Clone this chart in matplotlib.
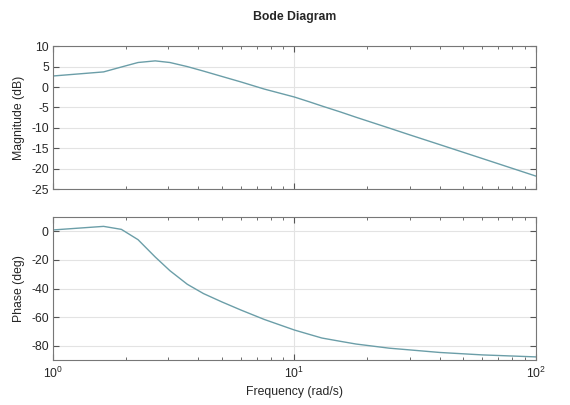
import numpy as np
import matplotlib
matplotlib.use('Agg')
import matplotlib.pyplot as plt
from matplotlib.ticker import LogLocator, NullFormatter

# frequencies (rad/s) and response
freq = [1.0, 1.62, 1.92, 2.25, 2.65, 3.05, 3.6, 4.2, 5.0, 6.0, 7.5,
        10.0, 11.5, 13.0, 15.5, 18.0, 24.7, 30.0, 40.0, 60.0, 100.0]
mag_db = [2.7, 3.7, 4.9, 6.0, 6.4, 6.0, 5.0, 3.9, 2.6, 1.25, -0.5,
          -2.45, -3.6, -4.65, -6.1, -7.4, -10.05, -11.7, -14.1, -17.5, -21.8]
phase_deg = [1.0, 3.5, 1.4, -5.8, -17.9, -27.5, -37.0, -43.5, -49.3, -55.0, -61.6,
             -69.0, -72.0, -74.6, -76.9, -78.8, -81.7, -82.9, -84.7, -86.4, -87.8]

mag_ticks = [-25, -20, -15, -10, -5, 0, 5, 10]
phase_ticks = [-80, -60, -40, -20, 0]

plt.rcParams['font.family'] = ['Liberation Sans', 'DejaVu Sans']
plt.rcParams['axes.unicode_minus'] = False
line_color = '#6b9ea8'
text_color = '#262626'

fig = plt.figure(figsize=(5.7, 4.05), dpi=100)
ax_mag = fig.add_axes([0.093, 0.533, 0.847, 0.353])
ax_ph = fig.add_axes([0.093, 0.111, 0.847, 0.353])


def style_axis(ax):
    ax.set_xscale('log')
    ax.set_xlim(1, 100)
    ax.xaxis.set_major_locator(LogLocator(base=10))
    ax.xaxis.set_minor_locator(LogLocator(base=10, subs=np.arange(2, 10)))
    ax.xaxis.set_minor_formatter(NullFormatter())
    ax.tick_params(which='both', direction='in', top=True, right=True,
                   colors='#555555', labelcolor=text_color, labelsize=8.8, pad=3)
    ax.tick_params(which='major', length=4)
    ax.tick_params(which='minor', length=2.5)
    ax.grid(True, which='major', color='#e3e3e3', linewidth=0.8)
    for s in ax.spines.values():
        s.set_color('#777777')
        s.set_linewidth(0.8)


ax_mag.plot(freq, mag_db, color=line_color, linewidth=1.0)
style_axis(ax_mag)
ax_mag.set_ylim(-25, 10)
ax_mag.set_yticks(mag_ticks)
ax_mag.xaxis.set_major_formatter(NullFormatter())
ax_mag.set_ylabel('Magnitude (dB)', fontsize=8.8, color=text_color)
ax_mag.yaxis.set_label_coords(-0.058, 0.5)
ax_mag.set_title('Bode Diagram', fontsize=8.8, fontweight='bold', color=text_color, pad=19)

ax_ph.plot(freq, phase_deg, color=line_color, linewidth=1.0)
style_axis(ax_ph)
ax_ph.set_ylim(-90, 10)
ax_ph.set_yticks(phase_ticks)
ax_ph.tick_params(axis='x', pad=4)
ax_ph.set_ylabel('Phase (deg)', fontsize=8.8, color=text_color)
ax_ph.yaxis.set_label_coords(-0.058, 0.5)
ax_ph.set_xlabel('Frequency (rad/s)', fontsize=8.8, color=text_color, labelpad=4)

fig.savefig('out.png', dpi=100)
